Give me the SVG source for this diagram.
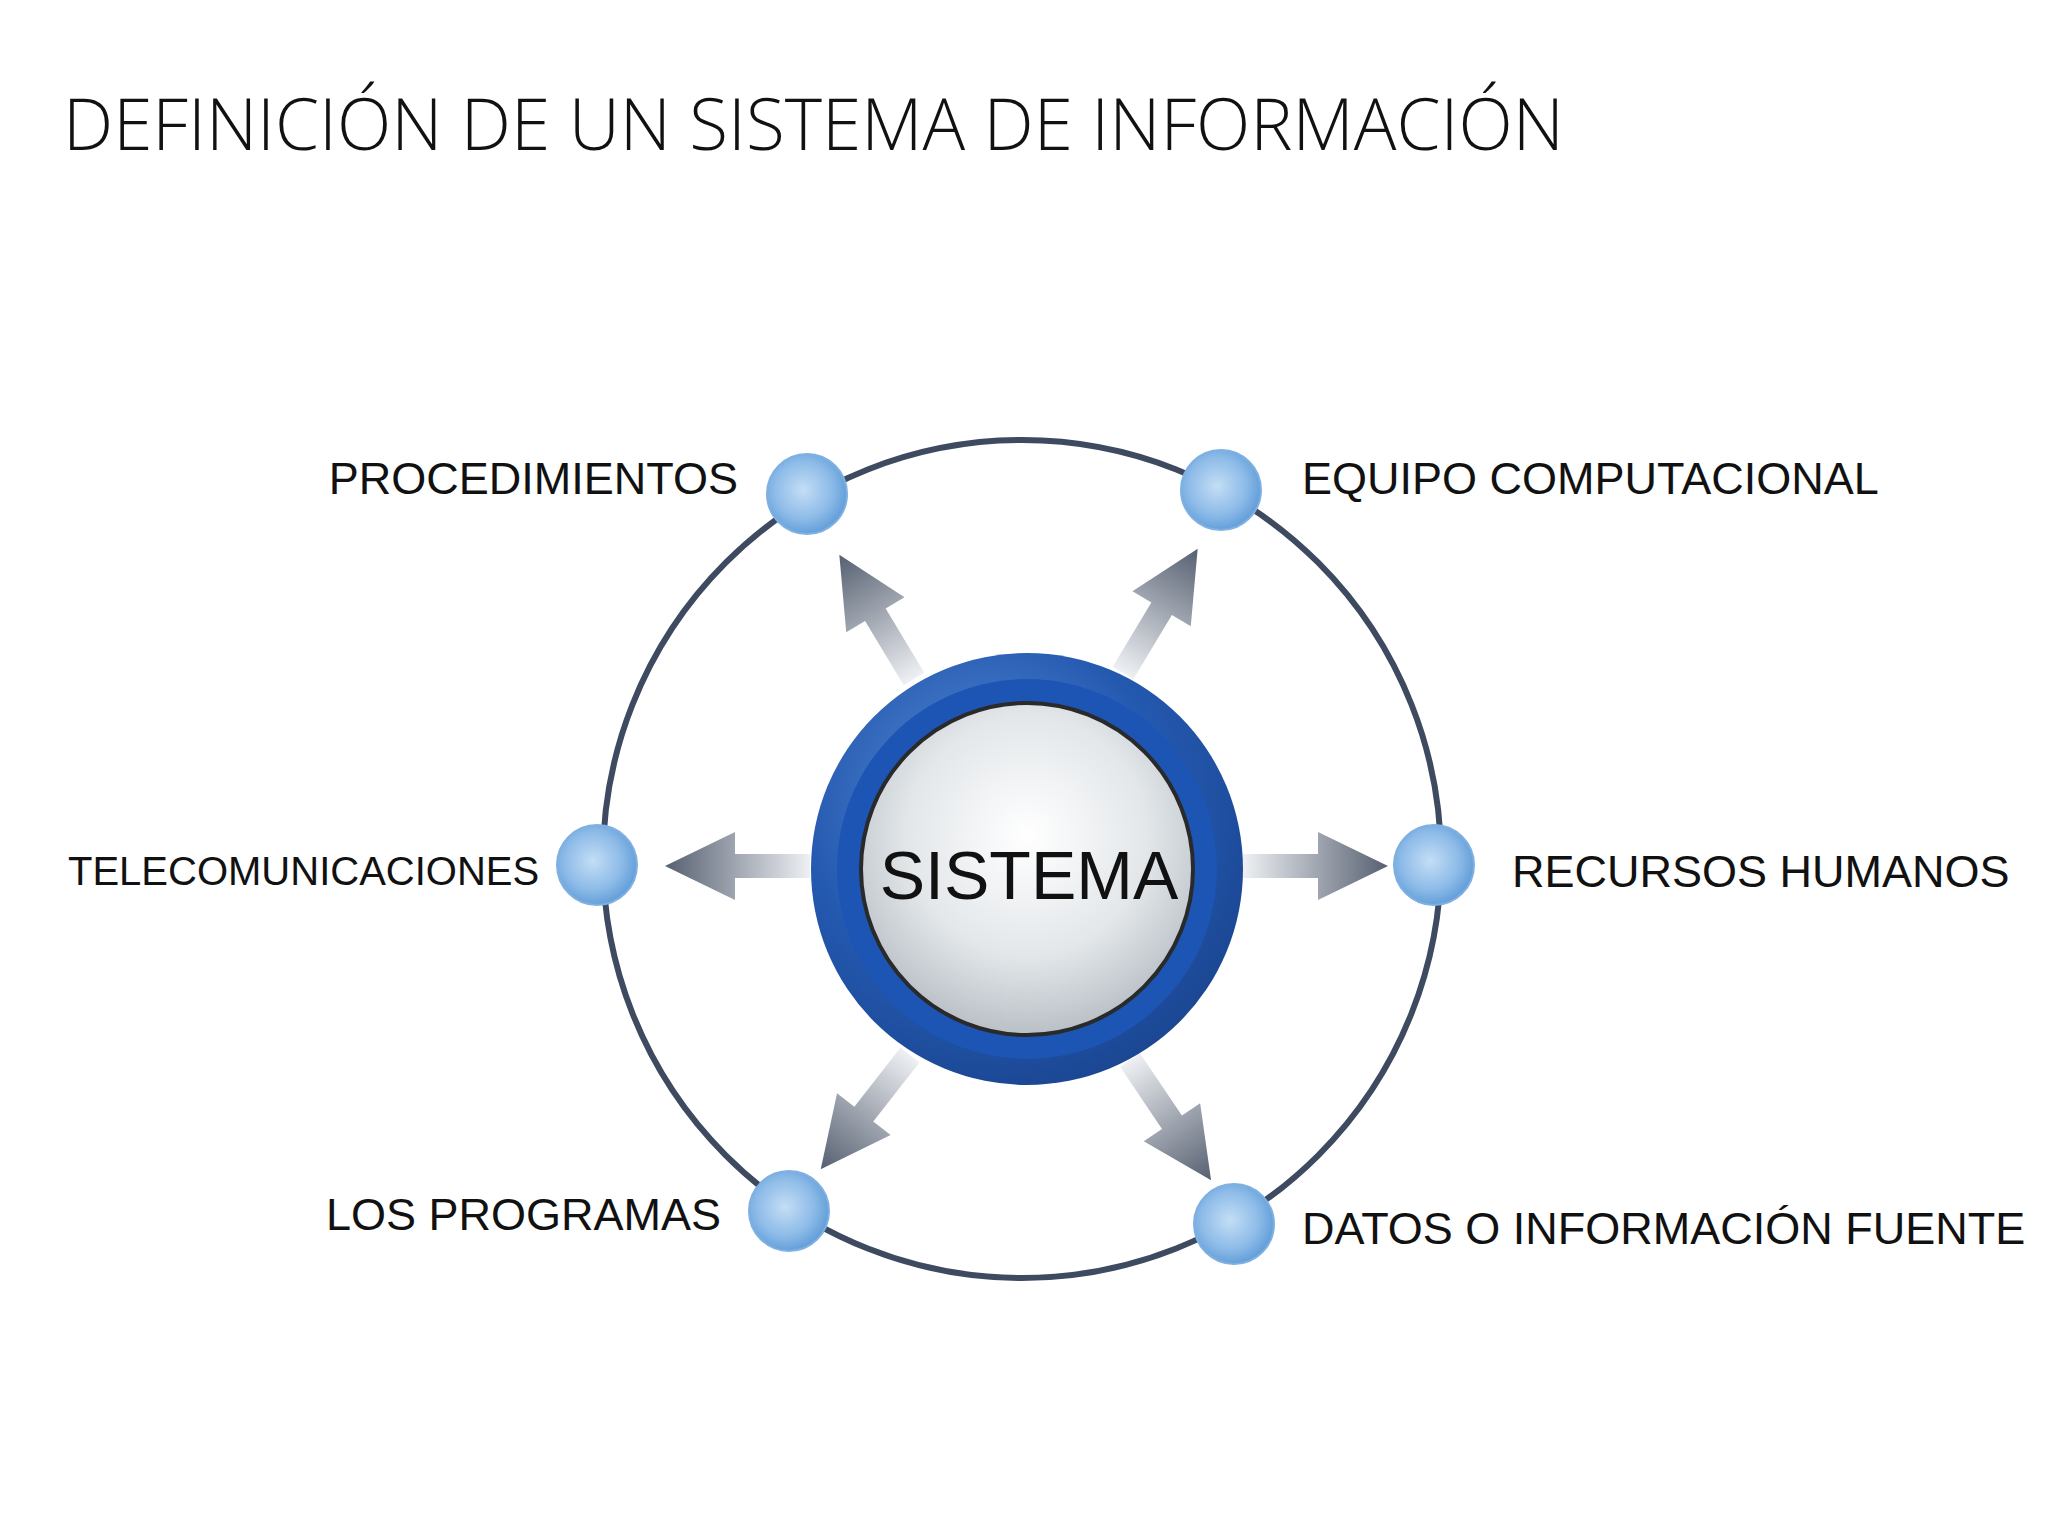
<svg xmlns="http://www.w3.org/2000/svg" width="2048" height="1536" viewBox="0 0 2048 1536">
<defs>
<style>
.lbl{font-family:"Liberation Sans",Arial,sans-serif;font-size:45px;fill:#111}
.ball{fill:url(#bg);stroke:#7fb0e2;stroke-width:2}
</style>
<radialGradient id="bg" cx="0.45" cy="0.45" r="0.6"><stop offset="0" stop-color="#c4def5"/><stop offset="0.6" stop-color="#8dbbe8"/><stop offset="1" stop-color="#5a98d6"/></radialGradient>
<radialGradient id="ring" cx="0.4" cy="0.35" r="0.7"><stop offset="0" stop-color="#5b8fd8"/><stop offset="0.6" stop-color="#2459b0"/><stop offset="1" stop-color="#1a4590"/></radialGradient>
<radialGradient id="core" cx="0.5" cy="0.4" r="0.6"><stop offset="0" stop-color="#ffffff"/><stop offset="0.6" stop-color="#e3e7ea"/><stop offset="1" stop-color="#b9c0c6"/></radialGradient>
<linearGradient id="ag" x1="0" y1="0" x2="1" y2="0"><stop offset="0" stop-color="#eef0f3"/><stop offset="1" stop-color="#566071"/></linearGradient>
<path id="arr" d="M0,-12 L75,-12 L75,-34 L145,0 L75,34 L75,12 L0,12 Z" fill="url(#ag)"/>
</defs>
<rect width="2048" height="1536" fill="#fff"/>
<text x="63" y="150" font-family="Open Sans,Liberation Sans,sans-serif" font-weight="300" font-size="71" fill="#111">DEFINICIÓN DE UN SISTEMA DE INFORMACIÓN</text>
<g id="connectors">
<circle cx="1022" cy="859" r="419" fill="none" stroke="#3d4a60" stroke-width="6"/>
<use href="#arr" transform="translate(914,679) rotate(-121)"/>
<use href="#arr" transform="translate(1123,673) rotate(-59)"/>
<use href="#arr" transform="translate(810,866) rotate(180)"/>
<use href="#arr" transform="translate(1243,866)"/>
<use href="#arr" transform="translate(910,1055) rotate(128)"/>
<use href="#arr" transform="translate(1130,1060) rotate(56)"/>
</g>
<g id="center">
<circle cx="1027" cy="869" r="216" fill="url(#ring)"/>
<circle cx="1027" cy="869" r="190" fill="#1d55b5"/>
<circle cx="1027" cy="869" r="166" fill="url(#core)" stroke="#2a2a2a" stroke-width="4"/>
<text x="1029" y="899" text-anchor="middle" font-family="Liberation Sans,Arial,sans-serif" font-size="68" fill="#111">SISTEMA</text>
</g>
<g id="n1"><circle class="ball" cx="807" cy="494" r="40"/><text class="lbl" x="738" y="494" text-anchor="end">PROCEDIMIENTOS</text></g>
<g id="n2"><circle class="ball" cx="1221" cy="490" r="40"/><text class="lbl" x="1302" y="494">EQUIPO COMPUTACIONAL</text></g>
<g id="n3"><circle class="ball" cx="597" cy="865" r="40"/><text class="lbl" x="68" y="885" style="font-size:40px">TELECOMUNICACIONES</text></g>
<g id="n4"><circle class="ball" cx="1434" cy="865" r="40"/><text class="lbl" x="1512" y="887">RECURSOS HUMANOS</text></g>
<g id="n5"><circle class="ball" cx="789" cy="1211" r="40"/><text class="lbl" x="721" y="1230" text-anchor="end">LOS PROGRAMAS</text></g>
<g id="n6"><circle class="ball" cx="1234" cy="1224" r="40"/><text class="lbl" x="1302" y="1244">DATOS O INFORMACIÓN FUENTE</text></g>
</svg>
